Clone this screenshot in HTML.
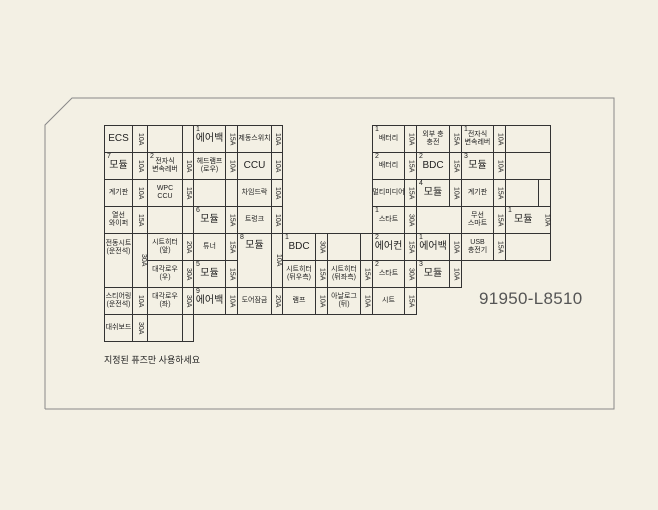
<!DOCTYPE html>
<html><head><meta charset="utf-8"><style>
body{margin:0;width:658px;height:510px;background:#f3f0e4;position:relative;overflow:hidden;font-family:"Liberation Sans","Noto Sans CJK KR",sans-serif;color:#222}
.c{position:absolute;border:1px solid #333;box-sizing:border-box;display:flex;align-items:center;justify-content:center;text-align:center;font-size:7px;line-height:8px;white-space:nowrap}
.b{font-size:10px}
.a{writing-mode:vertical-rl;font-size:7px}
.n{position:absolute;left:2px;top:0;font-size:7px}
</style></head><body>
<svg width="658" height="510" style="position:absolute;left:0;top:0">
<polyline points="45,409 614,409 614,98 72,98 45,125 45,409" fill="none" stroke="#888" stroke-width="1"/>
</svg>
<!-- left block -->
<div class="c b" style="left:104px;top:125px;width:29px;height:28px">ECS</div>
<div class="c a" style="left:132px;top:125px;width:16px;height:28px">10A</div>
<div class="c" style="left:147px;top:125px;width:36px;height:28px"></div>
<div class="c" style="left:182px;top:125px;width:12px;height:28px"></div>
<div class="c b" style="left:193px;top:125px;width:33px;height:28px"><span class="n">1</span>에어백</div>
<div class="c a" style="left:225px;top:125px;width:13px;height:28px">15A</div>
<div class="c" style="left:237px;top:125px;width:35px;height:28px">제동스위치</div>
<div class="c a" style="left:271px;top:125px;width:12px;height:28px">10A</div>

<div class="c b" style="left:104px;top:152px;width:29px;height:28px"><span class="n">7</span>모듈</div>
<div class="c a" style="left:132px;top:152px;width:16px;height:28px">10A</div>
<div class="c" style="left:147px;top:152px;width:36px;height:28px"><span class="n">2</span>전자식<br>변속레버</div>
<div class="c a" style="left:182px;top:152px;width:12px;height:28px">10A</div>
<div class="c" style="left:193px;top:152px;width:33px;height:28px">헤드램프<br>(로우)</div>
<div class="c a" style="left:225px;top:152px;width:13px;height:28px">10A</div>
<div class="c b" style="left:237px;top:152px;width:35px;height:28px">CCU</div>
<div class="c a" style="left:271px;top:152px;width:12px;height:28px">10A</div>

<div class="c" style="left:104px;top:179px;width:29px;height:28px">계기판</div>
<div class="c a" style="left:132px;top:179px;width:16px;height:28px">10A</div>
<div class="c" style="left:147px;top:179px;width:36px;height:28px">WPC<br>CCU</div>
<div class="c a" style="left:182px;top:179px;width:12px;height:28px">15A</div>
<div class="c" style="left:193px;top:179px;width:33px;height:28px"></div>
<div class="c" style="left:225px;top:179px;width:13px;height:28px"></div>
<div class="c" style="left:237px;top:179px;width:35px;height:28px">차임드락</div>
<div class="c a" style="left:271px;top:179px;width:12px;height:28px">10A</div>

<div class="c" style="left:104px;top:206px;width:29px;height:28px">열선<br>와이퍼</div>
<div class="c a" style="left:132px;top:206px;width:16px;height:28px">15A</div>
<div class="c" style="left:147px;top:206px;width:36px;height:28px"></div>
<div class="c" style="left:182px;top:206px;width:12px;height:28px"></div>
<div class="c b" style="left:193px;top:206px;width:33px;height:28px"><span class="n">6</span>모듈</div>
<div class="c a" style="left:225px;top:206px;width:13px;height:28px">15A</div>
<div class="c" style="left:237px;top:206px;width:35px;height:28px">트렁크</div>
<div class="c a" style="left:271px;top:206px;width:12px;height:28px">10A</div>

<div class="c" style="left:104px;top:233px;width:29px;height:55px;align-items:flex-start;padding-top:6px">전동시트<br>(운전석)</div>
<div class="c a" style="left:132px;top:233px;width:16px;height:55px;align-items:flex-start">30A</div>
<div class="c" style="left:147px;top:233px;width:36px;height:28px">시트히터<br>(앞)</div>
<div class="c a" style="left:182px;top:233px;width:12px;height:28px">20A</div>
<div class="c" style="left:147px;top:260px;width:36px;height:28px">대각로우<br>(우)</div>
<div class="c a" style="left:182px;top:260px;width:12px;height:28px">30A</div>
<div class="c" style="left:193px;top:233px;width:33px;height:28px">튜너</div>
<div class="c a" style="left:225px;top:233px;width:13px;height:28px">15A</div>
<div class="c b" style="left:193px;top:260px;width:33px;height:28px"><span class="n">5</span>모듈</div>
<div class="c a" style="left:225px;top:260px;width:13px;height:28px">15A</div>
<div class="c b" style="left:237px;top:233px;width:35px;height:55px;align-items:flex-start;padding-top:8px"><span class="n">8</span>모듈</div>
<div class="c a" style="left:271px;top:233px;width:12px;height:55px;align-items:flex-start">10A</div>

<div class="c b" style="left:282px;top:233px;width:34px;height:28px"><span class="n">1</span>BDC</div>
<div class="c a" style="left:315px;top:233px;width:13px;height:28px">30A</div>
<div class="c" style="left:327px;top:233px;width:34px;height:28px;border-bottom:none"></div>
<div class="c" style="left:360px;top:233px;width:13px;height:28px;border-bottom:none"></div>
<div class="c" style="left:282px;top:260px;width:34px;height:28px">시트히터<br>(뒤우측)</div>
<div class="c a" style="left:315px;top:260px;width:13px;height:28px">15A</div>
<div class="c" style="left:327px;top:260px;width:34px;height:28px">시트히터<br>(뒤좌측)</div>
<div class="c a" style="left:360px;top:260px;width:13px;height:28px">15A</div>

<div class="c" style="left:104px;top:287px;width:29px;height:28px">스티어링<br>(운전석)</div>
<div class="c a" style="left:132px;top:287px;width:16px;height:28px">10A</div>
<div class="c" style="left:147px;top:287px;width:36px;height:28px">대각로우<br>(좌)</div>
<div class="c a" style="left:182px;top:287px;width:12px;height:28px">30A</div>
<div class="c b" style="left:193px;top:287px;width:33px;height:28px"><span class="n">9</span>에어백</div>
<div class="c a" style="left:225px;top:287px;width:13px;height:28px">10A</div>
<div class="c" style="left:237px;top:287px;width:35px;height:28px">도어잠금</div>
<div class="c a" style="left:271px;top:287px;width:12px;height:28px">20A</div>
<div class="c" style="left:282px;top:287px;width:34px;height:28px">램프</div>
<div class="c a" style="left:315px;top:287px;width:13px;height:28px">10A</div>
<div class="c" style="left:327px;top:287px;width:34px;height:28px">아날로그<br>(뒤)</div>
<div class="c a" style="left:360px;top:287px;width:13px;height:28px">10A</div>
<div class="c" style="left:372px;top:287px;width:33px;height:28px">시트</div>
<div class="c a" style="left:404px;top:287px;width:13px;height:28px">15A</div>

<div class="c" style="left:104px;top:314px;width:29px;height:28px">대쉬보드</div>
<div class="c a" style="left:132px;top:314px;width:16px;height:28px">30A</div>
<div class="c" style="left:147px;top:314px;width:36px;height:28px"></div>
<div class="c" style="left:182px;top:314px;width:12px;height:28px"></div>

<div style="position:absolute;left:104px;top:353px;font-size:9px">지정된 퓨즈만 사용하세요</div>

<!-- right block -->
<div class="c" style="left:372px;top:125px;width:33px;height:28px"><span class="n">1</span>배터리</div>
<div class="c a" style="left:404px;top:125px;width:13px;height:28px">10A</div>
<div class="c" style="left:416px;top:125px;width:34px;height:28px">외부 충<br>충전</div>
<div class="c a" style="left:449px;top:125px;width:13px;height:28px">15A</div>
<div class="c" style="left:461px;top:125px;width:33px;height:28px"><span class="n">1</span>전자식<br>변속레버</div>
<div class="c a" style="left:493px;top:125px;width:13px;height:28px">10A</div>
<div class="c" style="left:505px;top:125px;width:46px;height:28px"></div>

<div class="c" style="left:372px;top:152px;width:33px;height:28px"><span class="n">2</span>배터리</div>
<div class="c a" style="left:404px;top:152px;width:13px;height:28px">15A</div>
<div class="c b" style="left:416px;top:152px;width:34px;height:28px"><span class="n">2</span>BDC</div>
<div class="c a" style="left:449px;top:152px;width:13px;height:28px">15A</div>
<div class="c b" style="left:461px;top:152px;width:33px;height:28px"><span class="n">3</span>모듈</div>
<div class="c a" style="left:493px;top:152px;width:13px;height:28px">10A</div>
<div class="c" style="left:505px;top:152px;width:46px;height:28px"></div>

<div class="c" style="left:372px;top:179px;width:33px;height:28px">멀티미디어</div>
<div class="c a" style="left:404px;top:179px;width:13px;height:28px">15A</div>
<div class="c b" style="left:416px;top:179px;width:34px;height:28px"><span class="n">4</span>모듈</div>
<div class="c a" style="left:449px;top:179px;width:13px;height:28px">10A</div>
<div class="c" style="left:461px;top:179px;width:33px;height:28px">계기판</div>
<div class="c a" style="left:493px;top:179px;width:13px;height:28px">15A</div>
<div class="c" style="left:505px;top:179px;width:34px;height:28px"></div>
<div class="c" style="left:538px;top:179px;width:13px;height:28px"></div>

<div class="c" style="left:372px;top:206px;width:33px;height:28px"><span class="n">1</span>스타트</div>
<div class="c a" style="left:404px;top:206px;width:13px;height:28px">30A</div>
<div class="c" style="left:416px;top:206px;width:46px;height:28px"></div>
<div class="c" style="left:461px;top:206px;width:33px;height:28px">무선<br>스마트</div>
<div class="c a" style="left:493px;top:206px;width:13px;height:28px">15A</div>
<div class="c b" style="left:505px;top:206px;width:46px;height:28px;justify-content:flex-start;padding-left:8px"><span class="n">1</span>모듈 <span class="a" style="margin-left:10px">10A</span></div>

<div class="c b" style="left:372px;top:233px;width:33px;height:28px"><span class="n">2</span>에어컨</div>
<div class="c a" style="left:404px;top:233px;width:13px;height:28px">15A</div>
<div class="c b" style="left:416px;top:233px;width:34px;height:28px"><span class="n">1</span>에어백</div>
<div class="c a" style="left:449px;top:233px;width:13px;height:28px">10A</div>
<div class="c" style="left:461px;top:233px;width:33px;height:28px">USB<br>충전기</div>
<div class="c a" style="left:493px;top:233px;width:13px;height:28px">15A</div>
<div class="c" style="left:505px;top:233px;width:46px;height:28px"></div>

<div class="c" style="left:372px;top:260px;width:33px;height:28px"><span class="n">2</span>스타트</div>
<div class="c a" style="left:404px;top:260px;width:13px;height:28px">30A</div>
<div class="c b" style="left:416px;top:260px;width:34px;height:28px"><span class="n">3</span>모듈</div>
<div class="c a" style="left:449px;top:260px;width:13px;height:28px">10A</div>

<div style="position:absolute;left:479px;top:289px;font-size:17px;color:#555;letter-spacing:0.3px">91950-L8510</div>
</body></html>
